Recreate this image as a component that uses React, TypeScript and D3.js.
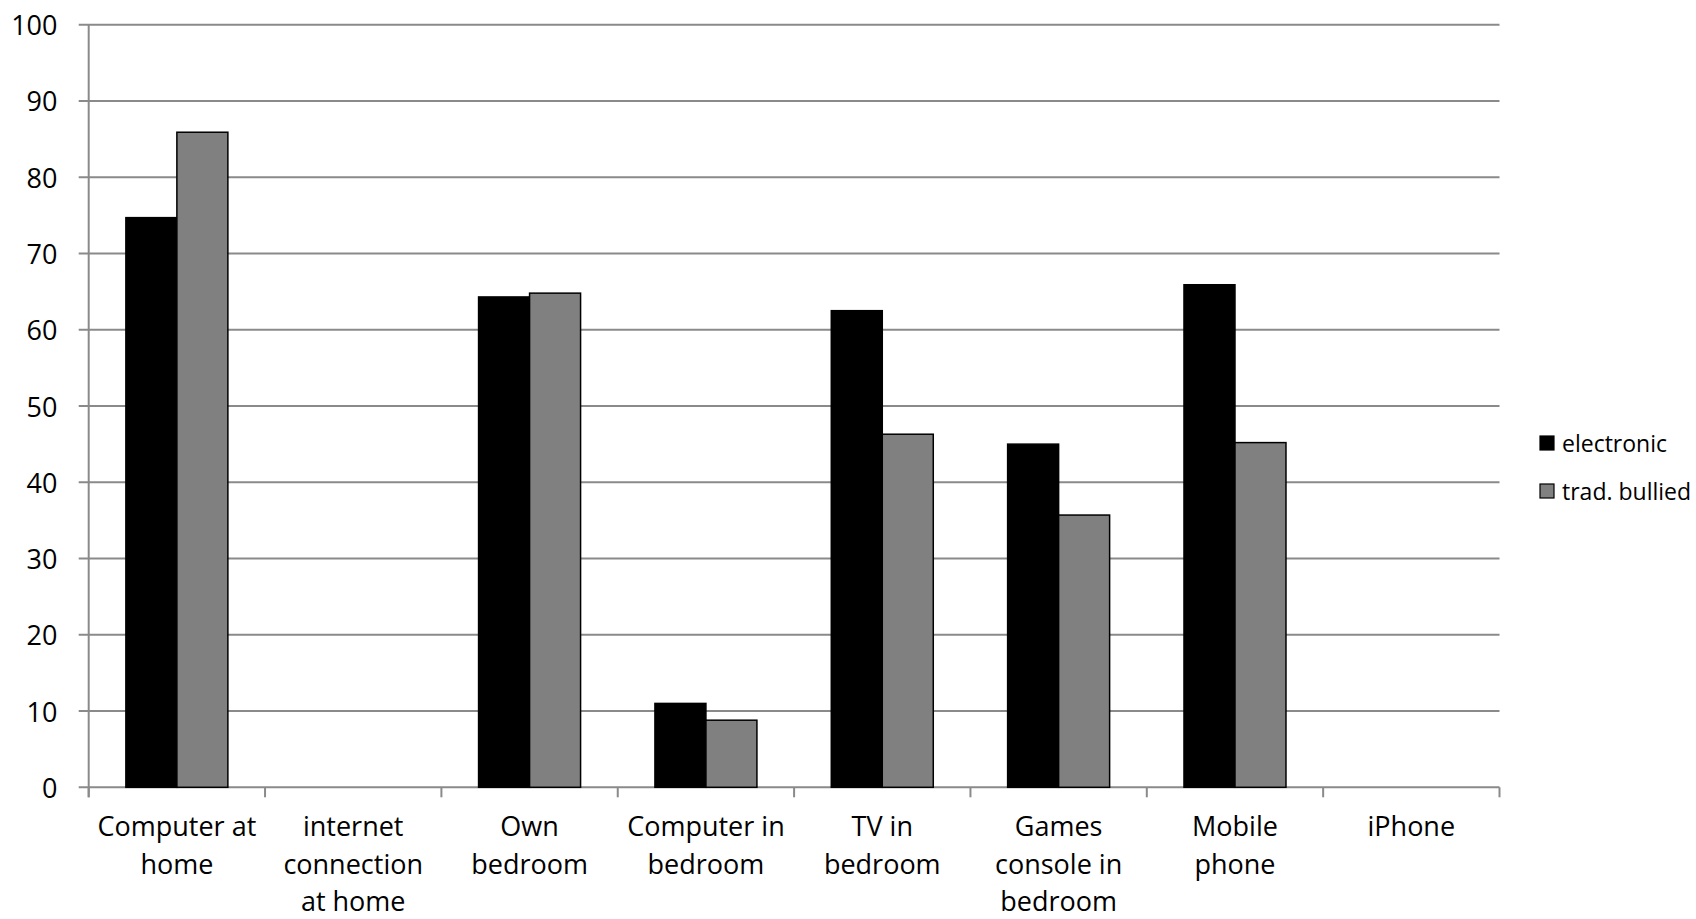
import React from "react";
import * as d3 from "d3";

const categories = [
  "Computer at home",
  "internet connection at home",
  "Own bedroom",
  "Computer in bedroom",
  "TV in bedroom",
  "Games console in bedroom",
  "Mobile phone",
  "iPhone",
];

const categoryLines = [
  ["Computer at", "home"],
  ["internet", "connection", "at home"],
  ["Own", "bedroom"],
  ["Computer in", "bedroom"],
  ["TV in", "bedroom"],
  ["Games", "console in", "bedroom"],
  ["Mobile", "phone"],
  ["iPhone"],
];

const seriesNames = ["electronic", "trad. bullied"];
const electronic: (number | null)[] = [74.7, null, 64.3, 11.0, 62.5, 45.0, 65.9, null];
const tradBullied: (number | null)[] = [85.9, null, 64.8, 8.8, 46.3, 35.7, 45.2, null];
const seriesValues = [electronic, tradBullied];
const seriesColors = ["#000000", "#808080"];
const yTicks = [0, 10, 20, 30, 40, 50, 60, 70, 80, 90, 100];

const W = 1696;
const H = 919;
const left = 88.7;
const right = 1499.5;
const top = 24.7;
const bottom = 787.3;
const font = "'Open Sans', sans-serif";
const gridColor = "#8a8a8a";

export default function App() {
  const x = d3.scaleBand<string>().domain(categories).range([left, right]).padding(0);
  const inner = d3
    .scaleBand<string>()
    .domain(seriesNames)
    .range([0, x.bandwidth()])
    .paddingInner(0)
    .paddingOuter(0.729);
  const y = d3.scaleLinear().domain([0, 100]).range([bottom, top]);

  const boundaries = categories.map((c) => x(c) as number).concat([right]);

  return (
    <svg
      width={W}
      height={H}
      style={{ position: "absolute", left: 0, top: 0, background: "#fff" }}
      fontFamily={font}
    >
      <rect x={0} y={0} width={W} height={H} fill="#fff" />
      {/* horizontal gridlines with left tick marks */}
      {yTicks.map((t) => (
        <line
          key={"g" + t}
          x1={left - 10}
          x2={right}
          y1={y(t)}
          y2={y(t)}
          stroke={gridColor}
          strokeWidth={2}
        />
      ))}
      {/* value axis */}
      <line x1={left} x2={left} y1={top} y2={bottom + 10} stroke={gridColor} strokeWidth={2} />
      {/* category tick marks */}
      {boundaries.map((b, i) => (
        <line
          key={"ct" + i}
          x1={b}
          x2={b}
          y1={bottom}
          y2={bottom + 10}
          stroke={gridColor}
          strokeWidth={2}
        />
      ))}
      {/* y tick labels */}
      {yTicks.map((t) => (
        <text
          key={"yl" + t}
          x={57.5}
          y={y(t)}
          textAnchor="end"
          dominantBaseline="central"
          fontSize={27}
          fill="#000"
        >
          {t}
        </text>
      ))}
      {/* bars */}
      {categories.map((c, ci) =>
        seriesNames.map((s, si) => {
          const v = seriesValues[si][ci];
          if (v === null) return null;
          const bx = (x(c) as number) + (inner(s) as number);
          return (
            <rect
              key={c + s}
              x={bx}
              y={y(v)}
              width={inner.bandwidth()}
              height={y(0) - y(v)}
              fill={seriesColors[si]}
              stroke="#000"
              strokeWidth={1.5}
            />
          );
        })
      )}
      {/* category labels */}
      {categories.map((c, ci) => (
        <text
          key={"cl" + c}
          x={(x(c) as number) + x.bandwidth() / 2}
          textAnchor="middle"
          fontSize={27}
          fill="#000"
        >
          {categoryLines[ci].map((ln, li) => (
            <tspan key={li} x={(x(c) as number) + x.bandwidth() / 2} y={836 + li * 37.5}>
              {ln}
            </tspan>
          ))}
        </text>
      ))}
      {/* legend */}
      {seriesNames.map((s, si) => (
        <g key={"lg" + s} transform={`translate(1540, ${443 + si * 48})`}>
          <rect
            x={0}
            y={-7}
            width={14}
            height={14}
            fill={seriesColors[si]}
            stroke="#000"
            strokeWidth={1.2}
          />
          <text x={22} y={0} dominantBaseline="central" fontSize={23} fill="#000">
            {s}
          </text>
        </g>
      ))}
    </svg>
  );
}
